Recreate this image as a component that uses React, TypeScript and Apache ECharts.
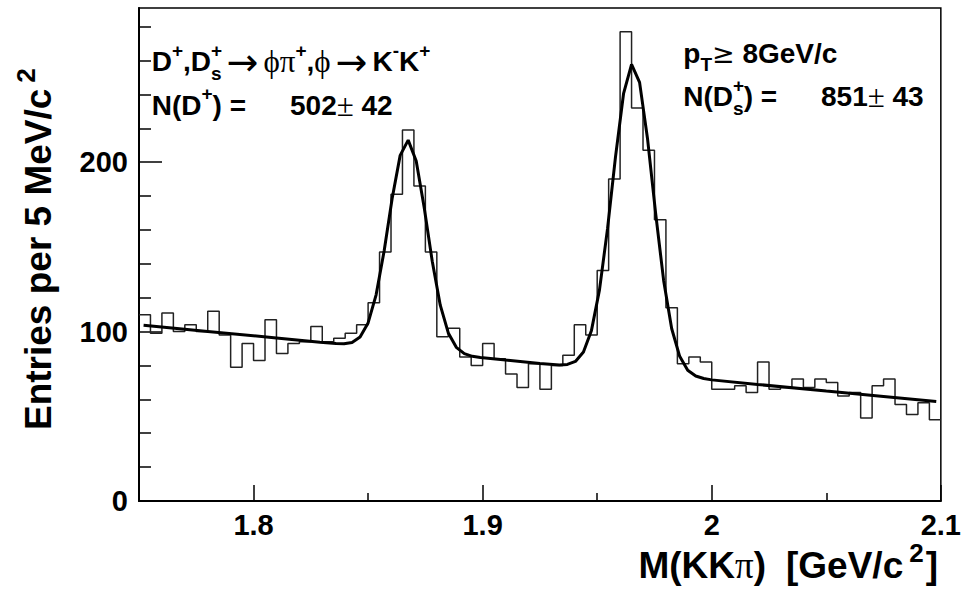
import React, { useEffect, useRef } from "react";
import * as echarts from "echarts";

// ---- data ----
const X_MIN = 1.75;
const X_MAX = 2.1;
const BIN_WIDTH = 0.005;
const Y_MIN = 0;
const Y_MAX = 291;

// entries per 5 MeV bin, 1.750 ... 2.100 GeV/c^2 (70 bins)
const COUNTS = [
  110, 99, 111, 100, 104, 100, 112, 98, 79, 93,
  83, 107, 87, 93, 94, 103, 94, 96, 99, 104,
  117, 147, 181, 219, 186, 147, 97, 102, 85, 80,
  93, 84, 75, 67, 81, 66, 80, 86, 104, 98,
  136, 190, 277, 232, 207, 166, 114, 81, 85, 82,
  66, 66, 68, 64, 82, 66, 67, 72, 67, 72,
  70, 62, 64, 49, 68, 72, 57, 51, 58, 48,
];

// fitted curve (points read along the drawn polyline)
const FIT_X = [
  1.752, 1.78, 1.81, 1.829, 1.836, 1.8395, 1.843, 1.8465, 1.85, 1.8535,
  1.857, 1.8605, 1.864, 1.8675, 1.871, 1.8745, 1.878, 1.8815, 1.885, 1.8885,
  1.892, 1.8955, 1.899, 1.91, 1.925, 1.9335, 1.937, 1.9405, 1.944, 1.9475,
  1.951, 1.9545, 1.958, 1.9615, 1.965, 1.9685, 1.972, 1.9755, 1.979, 1.9825,
  1.986, 1.9895, 1.993, 1.9965, 2.0, 2.02, 2.05, 2.075, 2.098,
];
const FIT_Y = [
  103.7, 100.1, 96.2, 93.7, 92.9, 92.8, 93.6, 96.8, 105.1, 121.7,
  147.6, 178.5, 204.0, 213.0, 200.7, 173.1, 141.5, 115.6, 99.2, 90.7,
  87.0, 85.4, 84.7, 83.2, 81.2, 80.3, 80.6, 82.4, 87.9, 100.7,
  124.6, 160.6, 203.3, 240.4, 257.7, 247.1, 213.5, 169.9, 130.2, 101.8,
  85.4, 77.2, 73.8, 72.3, 71.5, 68.8, 64.9, 61.7, 58.7,
];

const X_MAJOR = [1.8, 1.9, 2.0, 2.1];
const X_MINOR = [1.85, 1.95, 2.05];
const Y_MAJOR = [0, 100, 200];
const Y_MINOR = [20, 40, 60, 80, 120, 140, 160, 180, 220, 240, 260, 280];

const SANS = "Liberation Sans, Arial, Helvetica, sans-serif";
const SERIF = "Liberation Serif, DejaVu Serif, serif";
const SYM = "DejaVu Sans, sans-serif";

const TXT_RICH: any = {
  m: { fontFamily: SANS, fontWeight: "bold", fontSize: 28, lineHeight: 42, fill: "#000" },
  sy: { fontFamily: SERIF, fontWeight: "normal", fontSize: 31, lineHeight: 42, fill: "#000" },
  ar: { fontFamily: SYM, fontWeight: "normal", fontSize: 38, lineHeight: 42, fill: "#000", padding: [0, 5, 0, 5] },
  ge: { fontFamily: SYM, fontWeight: "normal", fontSize: 27, lineHeight: 42, fill: "#000" },
  sp: { fontFamily: SANS, fontWeight: "bold", fontSize: 19, lineHeight: 19, verticalAlign: "top", fill: "#000" },
  sp0: { fontFamily: SANS, fontWeight: "bold", fontSize: 19, lineHeight: 19, verticalAlign: "top", width: 0.01, fill: "#000" },
  sb: { fontFamily: SANS, fontWeight: "bold", fontSize: 19, lineHeight: 26, verticalAlign: "bottom", fill: "#000" },
};

const TITLE_RICH: any = {
  t: { fontFamily: SANS, fontWeight: "bold", fontSize: 37, lineHeight: 50, fill: "#000" },
  tg: { fontFamily: SANS, fontWeight: "bold", fontSize: 37, lineHeight: 50, fill: "#000", padding: [0, 0, 0, 20] },
  ts: { fontFamily: SERIF, fontWeight: "normal", fontSize: 37, lineHeight: 50, fill: "#000" },
  tp: { fontFamily: SANS, fontWeight: "bold", fontSize: 26, lineHeight: 26, verticalAlign: "top", fill: "#000", padding: [0, 2, 0, 6] },
};

function txt(x: number, y: number, text: string) {
  return {
    type: "text",
    x,
    y,
    silent: true,
    style: { text, rich: TXT_RICH, align: "left", verticalAlign: "middle" },
  };
}

export default function App() {
  const ref = useRef<HTMLDivElement>(null);

  useEffect(() => {
    if (!ref.current) return;
    const chart = echarts.init(ref.current, null, { renderer: "svg" });

    const histData: number[][] = COUNTS.map((c, i) => [
      Number((X_MIN + i * BIN_WIDTH).toFixed(4)),
      c,
    ]);
    histData.push([X_MAX, COUNTS[COUNTS.length - 1]]);
    const fitData = FIT_X.map((x, i) => [x, FIT_Y[i]]);

    chart.setOption({
      animation: false,
      backgroundColor: "#fff",
      grid: {
        left: 139,
        top: 8,
        width: 806,
        height: 493,
        show: true,
        borderColor: "#000",
        borderWidth: 1.5,
        backgroundColor: "transparent",
      },
      xAxis: [
        {
          type: "value",
          min: X_MIN,
          max: X_MAX,
          position: "bottom",
          axisLine: { show: true, onZero: false, lineStyle: { color: "#000", width: 2 } },
          axisTick: { show: true, inside: true, length: 16, customValues: X_MAJOR, lineStyle: { color: "#000", width: 1.5 } },
          axisLabel: {
            fontFamily: SANS,
            fontWeight: "bold",
            fontSize: 29,
            color: "#000",
            margin: 9,
            customValues: X_MAJOR,
          },
          splitLine: { show: false },
        },
        {
          type: "value",
          min: X_MIN,
          max: X_MAX,
          position: "bottom",
          axisLine: { show: false },
          axisTick: { show: true, inside: true, length: 8, customValues: X_MINOR, lineStyle: { color: "#000", width: 1.5 } },
          axisLabel: { show: false },
          splitLine: { show: false },
        },
      ],
      yAxis: [
        {
          type: "value",
          min: Y_MIN,
          max: Y_MAX,
          position: "left",
          axisLine: { show: true, onZero: false, lineStyle: { color: "#000", width: 2 } },
          axisTick: { show: true, inside: true, length: 23, customValues: Y_MAJOR, lineStyle: { color: "#000", width: 1.5 } },
          axisLabel: {
            fontFamily: SANS,
            fontWeight: "bold",
            fontSize: 29,
            color: "#000",
            margin: 11,
            padding: [6, 0, 0, 0],
            customValues: Y_MAJOR,
          },
          splitLine: { show: false },
        },
        {
          type: "value",
          min: Y_MIN,
          max: Y_MAX,
          position: "left",
          axisLine: { show: false },
          axisTick: { show: true, inside: true, length: 12, customValues: Y_MINOR, lineStyle: { color: "#000", width: 1.5 } },
          axisLabel: { show: false },
          splitLine: { show: false },
        },
      ],
      series: [
        {
          type: "line",
          name: "data",
          xAxisIndex: 0,
          yAxisIndex: 0,
          data: histData,
          step: "end",
          symbol: "none",
          lineStyle: { color: "#222", width: 1.5 },
          z: 2,
        },
        {
          type: "line",
          name: "fit",
          xAxisIndex: 0,
          yAxisIndex: 0,
          data: fitData,
          smooth: false,
          symbol: "none",
          lineStyle: { color: "#000", width: 3 },
          z: 3,
        },
      ],
      graphic: [
        txt(151.7, 61.7, "{m|D}{sp|+}{m|,D}{sp0|+}{sb|s}{ar|→}{sy|ϕπ}{sp|+}{m|,}{sy|ϕ}{ar|→}{m|K}{sp|-}{m|K}{sp|+}"),
        txt(151.7, 105, "{m|N(D}{sp|+}{m|) =}"),
        txt(290, 105, "{m|502}{sy|±}{m| 42}"),
        txt(683.3, 53.3, "{m|p}{sb|T}{ge|≥}{m| 8GeV/c}"),
        txt(683.3, 96.7, "{m|N(D}{sp0|+}{sb|s}{m|) =}"),
        txt(821, 96.7, "{m|851}{sy|±}{m| 43}"),
        {
          type: "text",
          x: 938,
          y: 565,
          silent: true,
          style: {
            text: "{t|M(KK}{ts|π}{t|)}{tg|[GeV/c}{tp|2}{t|]}",
            rich: TITLE_RICH,
            align: "right",
            verticalAlign: "middle",
          },
        },
        {
          type: "text",
          x: 38.4,
          y: 430,
          rotation: Math.PI / 2,
          silent: true,
          style: {
            text: "{t|Entries per 5 MeV/c}{tp|2}",
            rich: TITLE_RICH,
            align: "left",
            verticalAlign: "middle",
          },
        },
      ],
    });

    return () => {
      chart.dispose();
    };
  }, []);

  return (
    <div
      ref={ref}
      style={{ position: "fixed", left: 0, top: 0, width: 964, height: 592, background: "#fff" }}
    />
  );
}
